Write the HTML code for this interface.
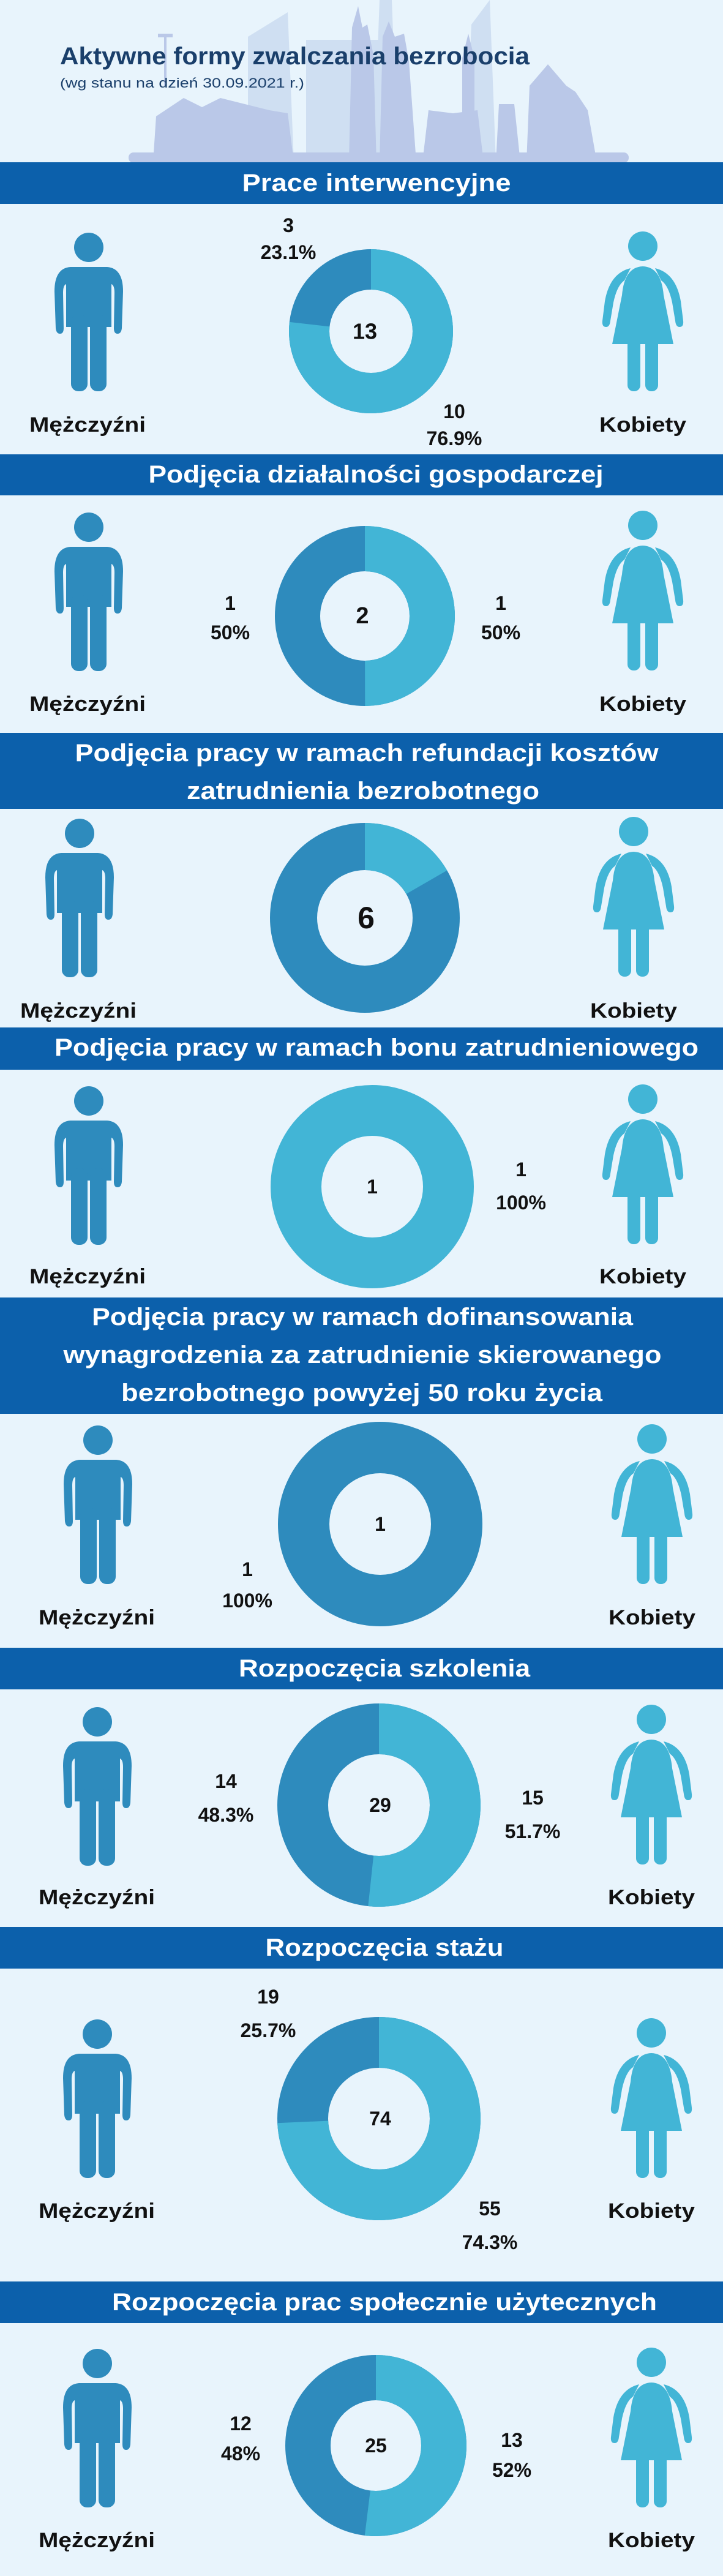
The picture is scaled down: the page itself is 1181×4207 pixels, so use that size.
<!DOCTYPE html>
<html><head><meta charset="utf-8"><style>
html,body{margin:0;padding:0;background:#e8f4fc;}
svg{display:block;}
text{font-family:"Liberation Sans",sans-serif;}
</style></head><body>
<svg width="1181" height="4207" viewBox="0 0 1181 4207" xmlns="http://www.w3.org/2000/svg">
<defs>
<g id="man" fill="#2e8bbd">
<circle cx="0" cy="0" r="24"/>
<path d="M-30 32 H30 Q56 34 56 72 L54 132 Q53 141 47 141 Q41 141 41 132 L42 74 Q42 62 37 60 L37 130 L-37 130 L-37 60 Q-42 62 -42 74 L-41 132 Q-41 141 -47 141 Q-53 141 -54 132 L-56 72 Q-56 34 -30 32 Z"/>
<rect x="-29" y="110" width="27" height="125" rx="12"/>
<rect x="2" y="110" width="27" height="125" rx="12"/>
</g>
<g id="woman" fill="#42b5d6">
<circle cx="0" cy="0" r="24"/>
<path d="M-34 80 Q-30 34 0 33 Q30 34 34 80 L50 160 L-50 160 Z"/>
<path d="M-20 36 Q-54 44 -62 90 L-66 122 Q-67 132 -60 132 Q-54 132 -53 122 L-48 92 Q-42 64 -30 56 Z"/>
<path d="M20 36 Q54 44 62 90 L66 122 Q67 132 60 132 Q54 132 53 122 L48 92 Q42 64 30 56 Z"/>
<rect x="-25" y="150" width="21" height="87" rx="10"/>
<rect x="4" y="150" width="21" height="87" rx="10"/>
</g>
</defs>
<rect width="1181" height="4207" fill="#e8f4fc"/>

<!-- skyline -->
<g fill="#cfdff2">
<polygon points="405,60 470,20 480,265 405,265"/>
<rect x="500" y="65" width="130" height="200"/>
<polygon points="620,0 640,0 650,265 610,265"/>
<polygon points="770,40 800,0 810,265 760,265"/>
</g>
<g fill="#bac8e8">
<rect x="268" y="60" width="4" height="80"/>
<rect x="258" y="55" width="24" height="6"/>
<polygon points="250,265 255,190 300,160 330,175 360,160 400,170 440,180 470,185 480,265"/>
<polygon points="570,265 575,45 585,10 592,45 600,40 610,90 615,265"/>
<polygon points="620,265 625,60 635,35 645,60 660,55 668,100 680,265"/>
<polygon points="690,265 700,180 740,185 780,180 790,265"/>
<rect x="755" y="95" width="20" height="170"/>
<polygon points="755,95 765,55 775,95"/>
<polygon points="860,265 865,140 895,105 925,140 940,150 960,180 975,265"/>
<polygon points="810,265 815,170 840,170 850,265"/>
<rect x="210" y="249" width="817" height="17" rx="8"/>
</g>

<text x="98" y="105" font-size="40" font-weight="bold" fill="#1a3f6b" textLength="767" lengthAdjust="spacingAndGlyphs">Aktywne formy zwalczania bezrobocia</text>
<text x="98" y="143" font-size="22" fill="#1a3f6b" textLength="399" lengthAdjust="spacingAndGlyphs">(wg stanu na dzień 30.09.2021 r.)</text>

<!-- banners -->
<g fill="#0c60ab">
<rect x="0" y="265" width="1181" height="68"/>
<rect x="0" y="742" width="1181" height="67"/>
<rect x="0" y="1197" width="1181" height="124"/>
<rect x="0" y="1678" width="1181" height="69"/>
<rect x="0" y="2119" width="1181" height="190"/>
<rect x="0" y="2691" width="1181" height="68"/>
<rect x="0" y="3147" width="1181" height="68"/>
<rect x="0" y="3726" width="1181" height="68"/>
</g>
<g fill="#fff" font-weight="bold" font-size="40" text-anchor="middle" dominant-baseline="central">
<text x="615" y="299" textLength="439" lengthAdjust="spacingAndGlyphs">Prace interwencyjne</text>
<text x="614" y="775" textLength="743" lengthAdjust="spacingAndGlyphs">Podjęcia działalności gospodarczej</text>
<text x="599" y="1230" textLength="953" lengthAdjust="spacingAndGlyphs">Podjęcia pracy w ramach refundacji kosztów</text>
<text x="593" y="1292" textLength="576" lengthAdjust="spacingAndGlyphs">zatrudnienia bezrobotnego</text>
<text x="615" y="1711" textLength="1052" lengthAdjust="spacingAndGlyphs">Podjęcia pracy w ramach bonu zatrudnieniowego</text>
<text x="592" y="2151" textLength="884" lengthAdjust="spacingAndGlyphs">Podjęcia pracy w ramach dofinansowania</text>
<text x="592" y="2213" textLength="977" lengthAdjust="spacingAndGlyphs">wynagrodzenia za zatrudnienie skierowanego</text>
<text x="591" y="2275" textLength="786" lengthAdjust="spacingAndGlyphs">bezrobotnego powyżej 50 roku życia</text>
<text x="628" y="2725" textLength="476" lengthAdjust="spacingAndGlyphs">Rozpoczęcia szkolenia</text>
<text x="628" y="3181" textLength="389" lengthAdjust="spacingAndGlyphs">Rozpoczęcia stażu</text>
<text x="628" y="3760" textLength="890" lengthAdjust="spacingAndGlyphs">Rozpoczęcia prac społecznie użytecznych</text>
</g>

<!-- figures -->
<use href="#man" x="145" y="404"/><use href="#woman" x="1050" y="402"/>
<use href="#man" x="145" y="861"/><use href="#woman" x="1050" y="858"/>
<use href="#man" x="130" y="1361"/><use href="#woman" x="1035" y="1358"/>
<use href="#man" x="145" y="1798"/><use href="#woman" x="1050" y="1795"/>
<use href="#man" x="160" y="2352"/><use href="#woman" x="1065" y="2350"/>
<use href="#man" x="159" y="2812"/><use href="#woman" x="1064" y="2808"/>
<use href="#man" x="159" y="3322"/><use href="#woman" x="1064" y="3320"/>
<use href="#man" x="159" y="3860"/><use href="#woman" x="1064" y="3858"/>

<g font-weight="bold" font-size="34" fill="#111" text-anchor="middle" dominant-baseline="central">
<text x="143" y="694" textLength="190" lengthAdjust="spacingAndGlyphs">Mężczyźni</text><text x="1050" y="694" textLength="142" lengthAdjust="spacingAndGlyphs">Kobiety</text>
<text x="143" y="1150" textLength="190" lengthAdjust="spacingAndGlyphs">Mężczyźni</text><text x="1050" y="1150" textLength="142" lengthAdjust="spacingAndGlyphs">Kobiety</text>
<text x="128" y="1651" textLength="190" lengthAdjust="spacingAndGlyphs">Mężczyźni</text><text x="1035" y="1651" textLength="142" lengthAdjust="spacingAndGlyphs">Kobiety</text>
<text x="143" y="2085" textLength="190" lengthAdjust="spacingAndGlyphs">Mężczyźni</text><text x="1050" y="2085" textLength="142" lengthAdjust="spacingAndGlyphs">Kobiety</text>
<text x="158" y="2642" textLength="190" lengthAdjust="spacingAndGlyphs">Mężczyźni</text><text x="1065" y="2642" textLength="142" lengthAdjust="spacingAndGlyphs">Kobiety</text>
<text x="158" y="3099" textLength="190" lengthAdjust="spacingAndGlyphs">Mężczyźni</text><text x="1064" y="3099" textLength="142" lengthAdjust="spacingAndGlyphs">Kobiety</text>
<text x="158" y="3611" textLength="190" lengthAdjust="spacingAndGlyphs">Mężczyźni</text><text x="1064" y="3611" textLength="142" lengthAdjust="spacingAndGlyphs">Kobiety</text>
<text x="158" y="4149" textLength="190" lengthAdjust="spacingAndGlyphs">Mężczyźni</text><text x="1064" y="4149" textLength="142" lengthAdjust="spacingAndGlyphs">Kobiety</text>
</g>

<!-- donuts -->
<g fill="none">
<circle cx="606" cy="541" r="101" stroke="#2e8bbd" stroke-width="66"/>
<circle cx="606" cy="541" r="101" stroke="#42b5d6" stroke-width="66" pathLength="100" stroke-dasharray="76.9 100" transform="rotate(-90 606 541)"/>
<circle cx="596" cy="1006" r="110" stroke="#2e8bbd" stroke-width="74"/>
<circle cx="596" cy="1006" r="110" stroke="#42b5d6" stroke-width="74" pathLength="100" stroke-dasharray="50 100" transform="rotate(-90 596 1006)"/>
<circle cx="596" cy="1499" r="116.5" stroke="#2e8bbd" stroke-width="77"/>
<circle cx="596" cy="1499" r="116.5" stroke="#42b5d6" stroke-width="77" pathLength="100" stroke-dasharray="16.67 100" transform="rotate(-90 596 1499)"/>
<circle cx="608" cy="1938" r="124.5" stroke="#42b5d6" stroke-width="83"/>
<circle cx="621" cy="2489" r="125" stroke="#2e8bbd" stroke-width="84"/>
<circle cx="619" cy="2948" r="124.5" stroke="#2e8bbd" stroke-width="83"/>
<circle cx="619" cy="2948" r="124.5" stroke="#42b5d6" stroke-width="83" pathLength="100" stroke-dasharray="51.7 100" transform="rotate(-90 619 2948)"/>
<circle cx="619" cy="3460" r="124.5" stroke="#2e8bbd" stroke-width="83"/>
<circle cx="619" cy="3460" r="124.5" stroke="#42b5d6" stroke-width="83" pathLength="100" stroke-dasharray="74.3 100" transform="rotate(-90 619 3460)"/>
<circle cx="614" cy="3994" r="111" stroke="#2e8bbd" stroke-width="74"/>
<circle cx="614" cy="3994" r="111" stroke="#42b5d6" stroke-width="74" pathLength="100" stroke-dasharray="52 100" transform="rotate(-90 614 3994)"/>
</g>

<g font-weight="bold" font-size="32" fill="#111" text-anchor="middle" dominant-baseline="central">
<text x="596" y="541" font-size="36">13</text>
<text x="471" y="368">3</text><text x="471" y="412">23.1%</text>
<text x="742" y="672">10</text><text x="742" y="716">76.9%</text>
<text x="592" y="1006" font-size="38">2</text>
<text x="376" y="985">1</text><text x="376" y="1033">50%</text>
<text x="818" y="985">1</text><text x="818" y="1033">50%</text>
<text x="598" y="1499" font-size="50">6</text>
<text x="608" y="1938">1</text>
<text x="851" y="1910">1</text><text x="851" y="1964">100%</text>
<text x="621" y="2489">1</text>
<text x="404" y="2563">1</text><text x="404" y="2614">100%</text>
<text x="621" y="2948">29</text>
<text x="369" y="2909">14</text><text x="369" y="2964">48.3%</text>
<text x="870" y="2936">15</text><text x="870" y="2991">51.7%</text>
<text x="621" y="3460">74</text>
<text x="438" y="3261">19</text><text x="438" y="3316">25.7%</text>
<text x="800" y="3607">55</text><text x="800" y="3662">74.3%</text>
<text x="614" y="3994">25</text>
<text x="393" y="3958">12</text><text x="393" y="4007">48%</text>
<text x="836" y="3985">13</text><text x="836" y="4034">52%</text>
</g>
</svg>
</body></html>
